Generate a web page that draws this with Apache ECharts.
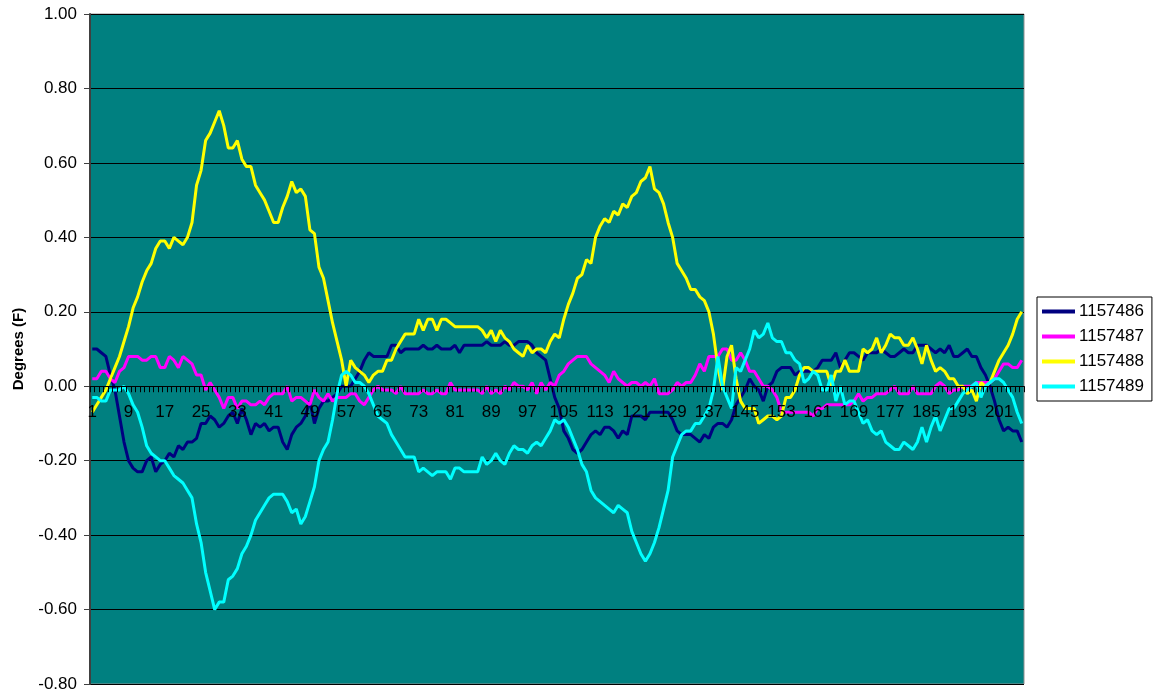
<!DOCTYPE html>
<html>
<head>
<meta charset="utf-8">
<script src="https://cdn.jsdelivr.net/npm/echarts@6/dist/echarts.min.js"></script>
<style>
html,body{margin:0;padding:0;background:#fff;}
#chart{width:1156px;height:696px;}
</style>
</head>
<body>
<div id="chart"></div>
<script>
// Categories 1..206 (sample index)
const categories = Array.from({length: 206}, (_, i) => String(i + 1));

const seriesNames = ['1157486', '1157487', '1157488', '1157489'];

const s1157486 = [
0.10,0.10,0.09,0.08,0.03,-0.01,-0.08,-0.15,-0.20,-0.22,
-0.23,-0.23,-0.20,-0.19,-0.23,-0.21,-0.20,-0.18,-0.19,-0.16,
-0.17,-0.15,-0.15,-0.14,-0.10,-0.10,-0.08,-0.09,-0.11,-0.10,
-0.08,-0.07,-0.10,-0.06,-0.09,-0.13,-0.10,-0.11,-0.10,-0.12,
-0.11,-0.11,-0.15,-0.17,-0.13,-0.11,-0.10,-0.08,-0.04,-0.10,
-0.06,-0.04,-0.04,-0.03,-0.02,0.00,0.00,0.00,0.02,0.04,
0.07,0.09,0.08,0.08,0.08,0.08,0.11,0.11,0.09,0.10,
0.10,0.10,0.10,0.11,0.10,0.10,0.11,0.10,0.10,0.10,
0.11,0.09,0.11,0.11,0.11,0.11,0.11,0.12,0.11,0.11,
0.11,0.12,0.11,0.11,0.12,0.12,0.12,0.11,0.09,0.08,
0.07,0.02,-0.03,-0.06,-0.12,-0.14,-0.17,-0.18,-0.17,-0.15,
-0.13,-0.12,-0.13,-0.11,-0.11,-0.12,-0.14,-0.12,-0.13,-0.08,
-0.08,-0.08,-0.09,-0.07,-0.07,-0.07,-0.07,-0.07,-0.09,-0.12,
-0.13,-0.13,-0.13,-0.14,-0.15,-0.13,-0.14,-0.11,-0.10,-0.10,
-0.11,-0.09,-0.05,-0.03,-0.01,0.02,0.00,-0.01,-0.04,0.00,
0.01,0.04,0.05,0.05,0.05,0.03,0.04,0.04,0.04,0.04,
0.05,0.07,0.07,0.07,0.09,0.05,0.07,0.09,0.09,0.08,
0.07,0.09,0.09,0.09,0.10,0.09,0.08,0.08,0.09,0.10,
0.09,0.09,0.11,0.11,0.11,0.10,0.09,0.10,0.09,0.11,
0.08,0.08,0.09,0.10,0.08,0.08,0.05,0.03,0.00,-0.04,
-0.09,-0.12,-0.11,-0.12,-0.12,-0.15
];

const s1157487 = [
0.02,0.02,0.04,0.04,0.02,0.01,0.04,0.05,0.08,0.08,
0.08,0.07,0.07,0.08,0.08,0.05,0.05,0.08,0.07,0.05,
0.08,0.07,0.06,0.03,0.03,-0.01,0.01,-0.01,-0.03,-0.06,
-0.03,-0.03,-0.06,-0.04,-0.04,-0.05,-0.05,-0.04,-0.05,-0.03,
-0.02,-0.02,-0.02,0.00,-0.04,-0.03,-0.03,-0.04,-0.05,-0.01,
-0.03,-0.04,-0.02,-0.04,-0.03,-0.03,-0.03,-0.02,-0.02,-0.04,
-0.05,-0.03,-0.01,0.00,-0.01,-0.01,-0.01,-0.02,0.00,-0.02,
-0.02,-0.02,-0.02,-0.01,-0.02,-0.02,-0.01,-0.02,-0.02,0.01,
-0.01,-0.01,-0.01,-0.01,-0.01,-0.01,-0.02,0.00,-0.02,-0.01,
-0.02,0.00,-0.01,0.01,0.00,0.00,-0.01,0.01,-0.02,0.01,
-0.01,0.01,0.00,0.03,0.04,0.06,0.07,0.08,0.08,0.08,
0.06,0.05,0.04,0.03,0.01,0.04,0.02,0.01,0.00,0.01,
0.01,0.00,0.01,0.00,0.02,-0.02,-0.02,-0.02,-0.01,0.01,
0.00,0.01,0.01,0.03,0.06,0.04,0.08,0.08,0.08,0.10,
0.10,0.07,0.07,0.09,0.07,0.04,0.04,0.02,0.00,0.00,
-0.01,-0.03,-0.07,-0.07,-0.07,-0.07,-0.07,-0.07,-0.07,-0.08,
-0.06,-0.06,-0.05,-0.05,-0.05,-0.05,-0.05,-0.05,-0.04,-0.02,
-0.04,-0.03,-0.03,-0.02,-0.02,-0.02,-0.01,0.00,-0.02,-0.02,
-0.02,0.00,-0.02,-0.02,-0.02,-0.02,0.00,0.01,0.00,-0.02,
-0.01,-0.01,0.00,0.00,0.00,0.01,0.01,0.01,0.01,0.02,
0.04,0.06,0.06,0.05,0.05,0.07
];

const s1157488 = [
-0.07,-0.05,-0.03,-0.01,0.02,0.05,0.08,0.12,0.16,0.21,
0.24,0.28,0.31,0.33,0.37,0.39,0.39,0.37,0.40,0.39,
0.38,0.40,0.44,0.54,0.58,0.66,0.68,0.71,0.74,0.70,
0.64,0.64,0.66,0.61,0.59,0.59,0.54,0.52,0.50,0.47,
0.44,0.44,0.48,0.51,0.55,0.52,0.53,0.51,0.42,0.41,
0.32,0.29,0.23,0.17,0.12,0.07,0.00,0.07,0.05,0.04,
0.03,0.01,0.03,0.04,0.04,0.07,0.07,0.10,0.12,0.14,
0.14,0.14,0.18,0.15,0.18,0.18,0.15,0.18,0.18,0.17,
0.16,0.16,0.16,0.16,0.16,0.16,0.15,0.13,0.15,0.12,
0.15,0.13,0.12,0.10,0.09,0.08,0.11,0.09,0.10,0.10,
0.09,0.12,0.14,0.13,0.18,0.22,0.25,0.29,0.30,0.34,
0.33,0.40,0.43,0.45,0.44,0.47,0.46,0.49,0.48,0.51,
0.52,0.55,0.56,0.59,0.53,0.52,0.49,0.44,0.40,0.33,
0.31,0.29,0.26,0.26,0.24,0.23,0.20,0.14,0.05,-0.01,
0.08,0.11,0.02,-0.04,-0.06,-0.06,-0.06,-0.10,-0.09,-0.08,
-0.08,-0.09,-0.08,-0.03,-0.03,-0.01,0.03,0.05,0.05,0.04,
0.04,0.04,0.04,0.00,0.04,0.04,0.07,0.04,0.04,0.04,
0.10,0.09,0.10,0.13,0.09,0.11,0.14,0.13,0.13,0.11,
0.11,0.13,0.10,0.06,0.11,0.07,0.04,0.05,0.04,0.02,
0.02,0.00,0.00,-0.02,-0.01,-0.04,0.01,0.00,0.01,0.04,
0.07,0.09,0.11,0.14,0.18,0.20
];

const s1157489 = [
-0.03,-0.03,-0.04,-0.04,-0.01,-0.01,-0.01,0.00,-0.02,-0.05,
-0.07,-0.11,-0.16,-0.18,-0.19,-0.20,-0.20,-0.22,-0.24,-0.25,
-0.26,-0.28,-0.30,-0.37,-0.42,-0.50,-0.55,-0.60,-0.58,-0.58,
-0.52,-0.51,-0.49,-0.45,-0.43,-0.40,-0.36,-0.34,-0.32,-0.30,
-0.29,-0.29,-0.29,-0.31,-0.34,-0.33,-0.37,-0.35,-0.31,-0.27,
-0.20,-0.17,-0.15,-0.09,-0.02,0.03,0.04,0.03,0.01,0.01,
0.00,-0.02,-0.05,-0.08,-0.09,-0.10,-0.13,-0.15,-0.17,-0.19,
-0.19,-0.19,-0.23,-0.22,-0.23,-0.24,-0.23,-0.23,-0.23,-0.25,
-0.22,-0.22,-0.23,-0.23,-0.23,-0.23,-0.19,-0.21,-0.20,-0.18,
-0.20,-0.21,-0.18,-0.16,-0.17,-0.17,-0.18,-0.16,-0.15,-0.16,
-0.14,-0.12,-0.09,-0.10,-0.09,-0.11,-0.14,-0.17,-0.21,-0.23,
-0.28,-0.30,-0.31,-0.32,-0.33,-0.34,-0.32,-0.33,-0.34,-0.39,
-0.42,-0.45,-0.47,-0.45,-0.42,-0.38,-0.33,-0.28,-0.19,-0.16,
-0.13,-0.12,-0.12,-0.10,-0.10,-0.08,-0.06,-0.01,0.08,0.00,
-0.03,-0.06,0.05,0.04,0.07,0.10,0.15,0.13,0.14,0.17,
0.13,0.12,0.12,0.09,0.09,0.07,0.06,0.01,0.02,0.04,
0.03,-0.01,-0.01,0.03,-0.04,0.00,-0.05,-0.04,-0.04,-0.07,
-0.10,-0.09,-0.12,-0.13,-0.12,-0.15,-0.16,-0.17,-0.17,-0.15,
-0.16,-0.17,-0.15,-0.11,-0.15,-0.11,-0.08,-0.12,-0.09,-0.06,
-0.06,-0.04,-0.02,-0.01,0.00,0.01,-0.03,0.00,0.01,0.02,
0.02,0.01,-0.01,-0.03,-0.07,-0.10
];

const seriesColors = ['#000080', '#FF00FF', '#FFFF00', '#00FFFF'];
const seriesData = [s1157486, s1157487, s1157488, s1157489];

const yMin = -0.8, yMax = 1.0, yStep = 0.2;
const FONT = '"Liberation Sans", Arial, sans-serif';

// layout
const gridTop = 14, gridBottom = 12, chartH = 696;
const gridH = chartH - gridTop - gridBottom;
const zeroFromBottom = gridH * (0 - yMin) / (yMax - yMin);

const chart = echarts.init(document.getElementById('chart'), null, {renderer: 'canvas'});

chart.setOption({
  animation: false,
  backgroundColor: '#ffffff',
  textStyle: {fontFamily: FONT},
  grid: {
    left: 90, right: 132, top: gridTop, bottom: gridBottom,
    show: true, backgroundColor: '#008080',
    borderColor: '#909090', borderWidth: 1,
    containLabel: false,
    outerBoundsMode: 'none'
  },
  legend: {
    orient: 'vertical',
    left: 1037, top: 297,
    padding: [6, 8, 6, 5],
    borderColor: '#000', borderWidth: 1,
    backgroundColor: '#fff',
    itemWidth: 33, itemHeight: 4, itemGap: 8,
    icon: 'rect',
    textStyle: {fontFamily: FONT, fontSize: 17, color: '#000', padding: [0, 0, 0, -1]},
    data: seriesNames
  },
  xAxis: {
    type: 'category',
    data: categories,
    boundaryGap: true,
    position: 'bottom',
    offset: -zeroFromBottom,
    z: 5,
    axisLine: {show: true, onZero: false, lineStyle: {color: '#000', width: 1}},
    axisTick: {show: true, interval: 0, length: 6, lineStyle: {color: '#000'}},
    axisLabel: {interval: 7, margin: 18, fontSize: 17, color: '#000', fontFamily: FONT},
    splitLine: {show: false}
  },
  yAxis: {
    type: 'value',
    min: yMin, max: yMax, interval: yStep,
    name: 'Degrees (F)',
    nameLocation: 'middle',
    nameGap: 64,
    nameRotate: 90,
    nameTextStyle: {fontFamily: FONT, fontSize: 15, fontWeight: 'bold', color: '#000'},
    axisLine: {show: true, onZero: false, lineStyle: {color: '#404040', width: 2}},
    axisTick: {show: true, length: 6, lineStyle: {color: '#404040'}},
    axisLabel: {margin: 13, fontSize: 17, color: '#000', fontFamily: FONT,
      formatter: v => v.toFixed(2)},
    splitLine: {show: true, lineStyle: {color: '#000', width: 1}}
  },
  series: seriesNames.map((name, k) => ({
    name: name,
    type: 'line',
    data: seriesData[k],
    symbol: 'none',
    showSymbol: false,
    smooth: false,
    lineStyle: {color: seriesColors[k], width: 3},
    itemStyle: {color: seriesColors[k]}
  }))
});
</script>
</body>
</html>
